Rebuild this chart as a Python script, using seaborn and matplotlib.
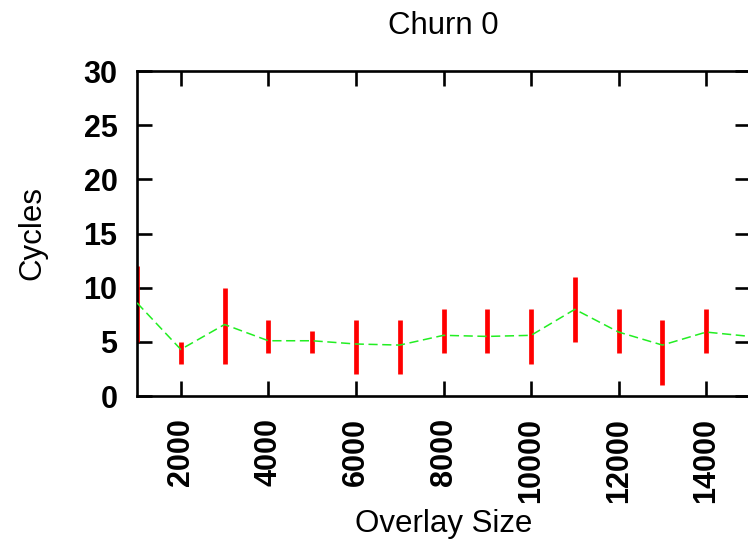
import matplotlib
matplotlib.use("Agg")
import matplotlib.pyplot as plt
import numpy as np
import pandas as pd
import seaborn as sns

# -----------------------------
# Data
# -----------------------------
overlay_size = [1000, 2000, 3000, 4000, 5000, 6000, 7000, 8000,
                9000, 10000, 11000, 12000, 13000, 14000, 15000]
cycles_mean = [8.6, 4.3, 6.6, 5.1, 5.1, 4.8, 4.7, 5.6,
               5.5, 5.6, 8.0, 5.9, 4.7, 5.9, 5.5]
cycles_min = [5, 3, 3, 4, 4, 2, 2, 4, 4, 3, 5, 4, 1, 4, 4]
cycles_max = [12, 5, 10, 7, 6, 7, 7, 8, 8, 8, 11, 8, 7, 8, 8]

x_ticks = [2000, 4000, 6000, 8000, 10000, 12000, 14000]
y_ticks = [0, 5, 10, 15, 20, 25, 30]

df = pd.DataFrame({"size": overlay_size, "mean": cycles_mean,
                   "lo": cycles_min, "hi": cycles_max})

# -----------------------------
# Style
# -----------------------------
sns.set_style("white")
plt.rcParams["font.family"] = ["Liberation Sans", "DejaVu Sans"]
plt.rcParams["text.color"] = "black"
plt.rcParams["axes.labelcolor"] = "black"
plt.rcParams["xtick.color"] = "black"
plt.rcParams["ytick.color"] = "black"

fig = plt.figure(figsize=(7.48, 5.44), dpi=100)
ax = fig.add_axes([137 / 748, 148 / 544, 613 / 748, 325 / 544])

# min-max ranges as thick red bars
ax.vlines(df["size"], df["lo"], df["hi"], color="#ff0000",
          linewidth=3.4, zorder=2)

# mean as thin dashed green line
sns.lineplot(data=df, x="size", y="mean", ax=ax, color="#22ee22",
             linewidth=1.1, zorder=3, errorbar=None)
ax.lines[-1].set_dashes((6, 3))

ax.set_xlim(1000, 15000)
ax.set_ylim(0, 30)
ax.set_xticks(x_ticks)
ax.set_yticks(y_ticks)
ax.set_xticklabels([str(t) for t in x_ticks], rotation=90, va="top",
                   ha="center", fontsize=22, fontweight="bold")
ax.set_yticklabels([str(t) for t in y_ticks], fontsize=22,
                   fontweight="bold")

ax.tick_params(axis="both", direction="in", length=11, width=1.9,
               color="black", top=True, right=True, bottom=True, left=True)
ax.tick_params(axis="x", pad=16)
ax.tick_params(axis="y", pad=14)

for sp in ax.spines.values():
    sp.set_visible(True)
    sp.set_color("black")
    sp.set_linewidth(1.9)

ax.set_title("Churn 0", fontsize=22.5, pad=27)
ax.set_xlabel("Overlay Size", fontsize=22.5, labelpad=4)
ax.set_ylabel("Cycles", fontsize=22.5, labelpad=26)

fig.savefig("out.png", dpi=100)
